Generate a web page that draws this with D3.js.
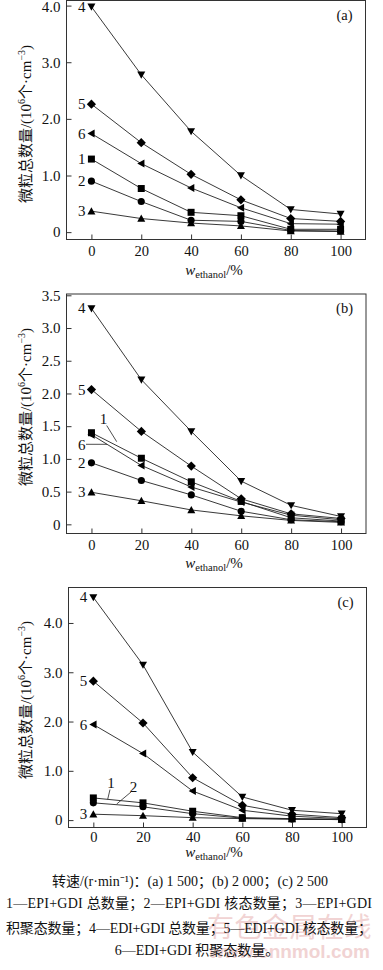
<!DOCTYPE html>
<html>
<head>
<meta charset="utf-8">
<script src="https://cdn.jsdelivr.net/npm/d3@7"></script>
<style>
  body { margin: 0; background: #fff; }
  svg { display: block; }
  text { font-family: "Liberation Serif", "Noto Sans CJK SC", serif; fill: #111; }
</style>
</head>
<body>
<svg id="chart" width="383" height="970"></svg>
<script>
// ethanol mass fraction, %
const xValues = [0, 20, 40, 60, 80, 100];
const seriesIds = ["1", "2", "3", "4", "5", "6"];

// total particle number, 10^6 /cm3 ; rows = series 1..6
const valuesA = [
  [1.29, 0.77, 0.35, 0.29, 0.05, 0.05],
  [0.90, 0.54, 0.21, 0.19, 0.03, 0.02],
  [0.37, 0.24, 0.16, 0.11, 0.02, 0.01],
  [3.98, 2.78, 1.78, 1.00, 0.40, 0.32],
  [2.26, 1.58, 1.02, 0.57, 0.24, 0.19],
  [1.74, 1.21, 0.78, 0.43, 0.15, 0.14]
];
const valuesB = [
  [1.40, 1.01, 0.65, 0.35, 0.10, 0.05],
  [0.94, 0.67, 0.45, 0.20, 0.07, 0.04],
  [0.49, 0.36, 0.22, 0.13, 0.06, 0.03],
  [3.30, 2.21, 1.42, 0.66, 0.29, 0.12],
  [2.06, 1.42, 0.89, 0.39, 0.16, 0.09],
  [1.37, 0.90, 0.57, 0.34, 0.14, 0.07]
];
const valuesC = [
  [0.45, 0.35, 0.18, 0.05, 0.03, 0.02],
  [0.35, 0.27, 0.13, 0.04, 0.02, 0.01],
  [0.12, 0.09, 0.05, 0.03, 0.02, 0.01],
  [4.52, 3.15, 1.38, 0.47, 0.20, 0.13],
  [2.82, 1.97, 0.86, 0.30, 0.12, 0.05],
  [1.94, 1.35, 0.59, 0.20, 0.08, 0.03]
];

const ticksA = [0, 1, 2, 3, 4];
const ticksB = [0, 0.5, 1, 1.5, 2, 2.5, 3, 3.5];
const ticksC = [0, 1, 2, 3, 4];

const captionLines = [
  "转速/(r·min⁻¹)：(a) 1 500；(b) 2 000；(c) 2 500",
  "1—EPI+GDI 总数量；2—EPI+GDI 核态数量；3—EPI+GDI",
  "积聚态数量；4—EDI+GDI 总数量；5—EDI+GDI 核态数量；",
  "6—EDI+GDI 积聚态数量。"
];

// panel layout (pixels)
const panels = [
  { tag: "(a)", values: valuesA, ticks: ticksA, yDomain: [-0.13, 4.09],
    left: 66.5, right: 365.5, top: 0.5, bottom: 239.5, titleY: 124,
    tickPad: 6, xTitleY: 275, leaders: {} },
  { tag: "(b)", values: valuesB, ticks: ticksB, yDomain: [-0.14, 3.52],
    left: 66.5, right: 366, top: 294, bottom: 533.5, titleY: 407,
    tickPad: 6, xTitleY: 568,
    leaders: {
      "1": { tx: 103.5, ty: 424, line: [[106.7, 425.5], [116.7, 441.7]] },
      "6": { tx: 81.7, ty: 449.5, line: [[86, 444.3], [107, 444.3]] }
    } },
  { tag: "(c)", values: valuesC, ticks: ticksC, yDomain: [-0.15, 4.72],
    left: 68.5, right: 366.5, top: 587.5, bottom: 827.5, titleY: 700,
    tickPad: 4, xTitleY: 857,
    leaders: {
      "1": { tx: 111, ty: 788, line: [[110, 789.5], [107.7, 799.3]] },
      "2": { tx: 133.5, ty: 791.5, line: [[131, 792], [116.7, 804]] }
    } }
];

// marker shapes
function markerPath(id) {
  const s = 4;
  switch (id) {
    case "1": return `M${-3.5},${-3.5}H3.5V3.5H-3.5Z`;
    case "2": return d3.symbol(d3.symbolCircle, 40)();
    case "3": return `M0,${-s}L${s},${s * 0.8}L${-s},${s * 0.8}Z`;
    case "4": return `M0,${s}L${s},${-s * 0.8}L${-s},${-s * 0.8}Z`;
    case "5": return `M0,${-4.6}L4.6,0L0,4.6L-4.6,0Z`;
    case "6": return `M${-s},0L${s * 0.8},${-s}L${s * 0.8},${s}Z`;
  }
}

const svg = d3.select("#chart");

// watermark, faint, behind the caption
svg.append("text")
  .attr("x", 207).attr("y", 937)
  .attr("font-size", 27)
  .attr("letter-spacing", 0.5)
  .style("fill", "#f1d3d3")
  .style("font-family", "'Noto Sans CJK SC'")
  .text("有色金属在线");
svg.append("text")
  .attr("x", 370).attr("y", 958)
  .attr("text-anchor", "end")
  .attr("font-size", 19)
  .attr("font-weight", "bold")
  .style("fill", "#f1d3d3")
  .style("font-family", "'Liberation Sans', sans-serif")
  .text("www.cnnmol.com");

panels.forEach(p => {
  const g = svg.append("g");

  const x = d3.scaleLinear().domain([-10, 110]).range([p.left, p.right]);
  const y = d3.scaleLinear().domain(p.yDomain).range([p.bottom, p.top]);

  // frame
  g.append("rect")
    .attr("x", p.left).attr("y", p.top)
    .attr("width", p.right - p.left).attr("height", p.bottom - p.top)
    .attr("fill", "none").attr("stroke", "#333").attr("stroke-width", 1);

  // y axis, ticks pointing inward
  const yAxis = g.append("g")
    .attr("transform", `translate(${p.left},0)`)
    .call(d3.axisLeft(y).tickValues(p.ticks)
      .tickSizeInner(-5).tickSizeOuter(0).tickPadding(6)
      .tickFormat(d => d === 0 ? "0" : d.toFixed(1)));
  yAxis.select(".domain").remove();
  yAxis.selectAll("line").attr("stroke", "#333");
  yAxis.selectAll("text").attr("font-size", 15)
    .style("font-family", "'Liberation Serif', serif").attr("fill", "#111")
    .attr("dy", d => y(d) < 8 ? "0.42em" : "0.32em");

  const xAxis = g.append("g")
    .attr("transform", `translate(0,${p.bottom})`)
    .call(d3.axisBottom(x).tickValues(xValues)
      .tickSizeInner(-5).tickSizeOuter(0).tickPadding(p.tickPad));
  xAxis.select(".domain").remove();
  xAxis.selectAll("line").attr("stroke", "#333");
  xAxis.selectAll("text").attr("font-size", 14.5)
    .style("font-family", "'Liberation Serif', serif").attr("fill", "#111");

  // y title
  const yt = g.append("text")
    .attr("transform", `translate(31,${p.titleY}) rotate(-90)`)
    .attr("text-anchor", "middle")
    .attr("font-size", 15);
  yt.append("tspan").text("微粒总数量/(10");
  yt.append("tspan").attr("dy", -6).attr("font-size", 10).text("6");
  yt.append("tspan").attr("dy", 6).text("个·cm");
  yt.append("tspan").attr("dy", -6).attr("font-size", 10).text("−3");
  yt.append("tspan").attr("dy", 6).text(")");

  // x title
  const xt = g.append("text")
    .attr("x", 214).attr("y", p.xTitleY)
    .attr("text-anchor", "middle")
    .attr("font-size", 15);
  xt.append("tspan").attr("font-style", "italic").text("w");
  xt.append("tspan").attr("dy", 3).attr("font-size", 10.5).text("ethanol");
  xt.append("tspan").attr("dy", -3).text("/%");

  // panel tag
  g.append("text")
    .attr("x", p.right - 13).attr("y", p.top + 19)
    .attr("text-anchor", "end")
    .attr("font-size", 14.5)
    .text(p.tag);

  const line = d3.line().x((d, i) => x(xValues[i])).y(d => y(d));

  p.values.forEach((vals, si) => {
    g.append("path")
      .attr("d", line(vals))
      .attr("fill", "none")
      .attr("stroke", "#222")
      .attr("stroke-width", 0.9);
  });

  p.values.forEach((vals, si) => {
    g.selectAll(null)
      .data(vals)
      .join("path")
      .attr("transform", (d, i) => `translate(${x(xValues[i])},${y(d)})`)
      .attr("d", markerPath(seriesIds[si]))
      .attr("fill", "#000");
  });

  // series labels
  p.values.forEach((vals, si) => {
    const id = seriesIds[si];
    const ld = p.leaders[id];
    if (ld) {
      g.append("path")
        .attr("d", d3.line()(ld.line))
        .attr("stroke", "#222").attr("stroke-width", 0.8).attr("fill", "none");
      g.append("text")
        .attr("x", ld.tx).attr("y", ld.ty)
        .attr("text-anchor", "middle")
        .attr("font-size", 15)
        .text(id);
    } else {
      g.append("text")
        .attr("x", x(0) - 6).attr("y", y(vals[0]) + 5)
        .attr("text-anchor", "end")
        .attr("font-size", 15)
        .text(id);
    }
  });
});

// caption
const cap = svg.append("g").attr("font-size", 14);
const capPos = [
  { x: 190, y: 886, len: null },
  { x: 189, y: 908, len: 366 },
  { x: 189, y: 933, len: 366 },
  { x: 197, y: 955, len: null }
];
captionLines.forEach((t, i) => {
  const el = cap.append("text")
    .attr("x", capPos[i].x).attr("y", capPos[i].y)
    .attr("text-anchor", "middle")
    .attr("font-size", 14)
    .text(t);
  if (capPos[i].len) {
    el.attr("textLength", capPos[i].len).attr("lengthAdjust", "spacing");
  }
});
</script>
</body>
</html>
